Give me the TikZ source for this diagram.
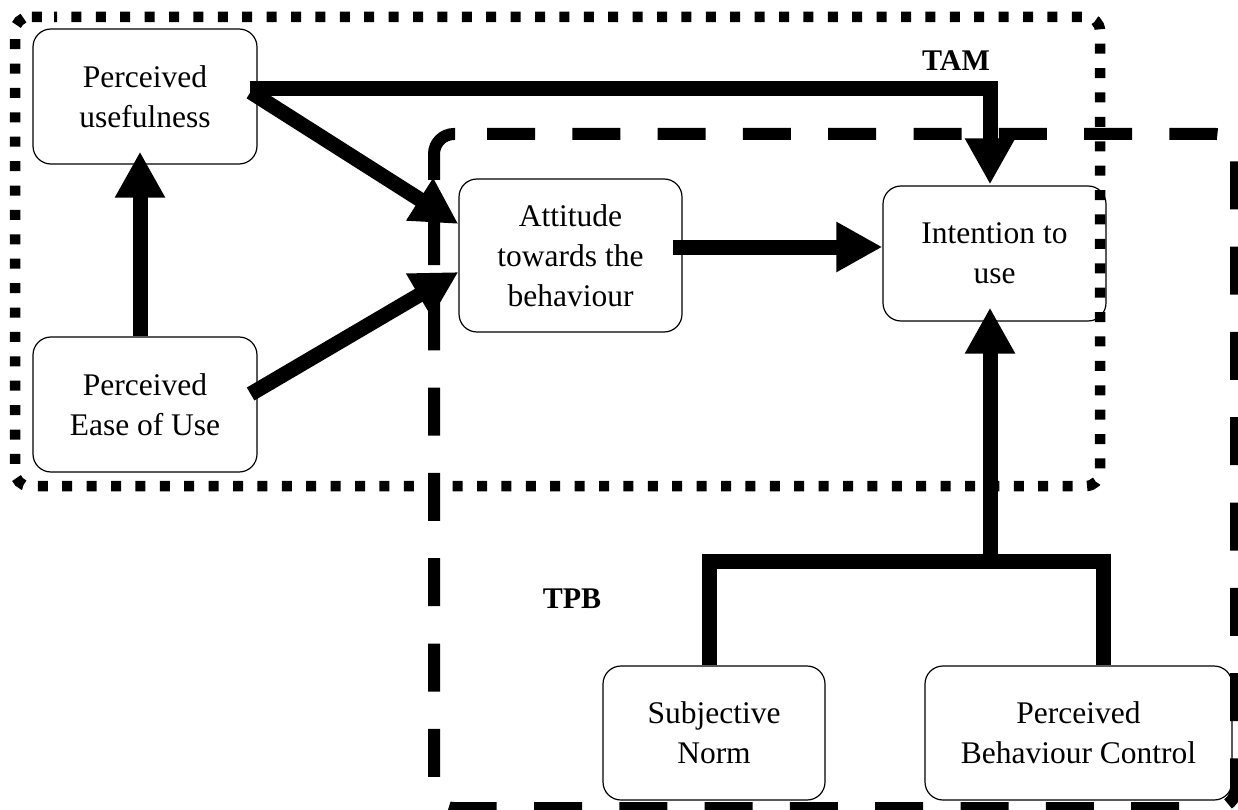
\documentclass[tikz,border=0pt]{standalone}
\usepackage{fontspec}
\setmainfont{Liberation Serif}
\usetikzlibrary{arrows.meta,calc}
\begin{document}
\begin{tikzpicture}[x=1pt,y=-1pt,
  box/.style={draw, line width=1.2pt, rounded corners=18pt, fill=white, align=center,
    font=\fontsize{31.5}{40}\selectfont, inner sep=0pt},
  arr/.style={line width=15pt, line join=miter, -{Triangle[length=46pt,width=47pt]}},
  conn/.style={line width=15pt, line join=miter},
  tamline/.style={line width=10.5pt, rounded corners=14pt, dash pattern=on 10pt off 14.4pt, dash phase=7pt},
  tpbline/.style={line width=12pt, rounded corners=20pt, dash pattern=on 48pt off 37.3pt},
  tpbsolid/.style={line width=12pt, rounded corners=20pt},
  lbl/.style={font=\fontsize{30}{36}\selectfont\bfseries, anchor=base, inner sep=0pt}]
\useasboundingbox (0,0) rectangle (1238,810);
% nodes
\node[box, minimum width=224pt, minimum height=135pt] (PU) at (145,96.5) {Perceived\\usefulness};
\node[box, minimum width=224pt, minimum height=135pt] (PEOU) at (145,404.5) {Perceived\\Ease of Use};
\node[box, minimum width=223pt, minimum height=153pt] (Att) at (570.5,255.5) {Attitude\\towards the\\behaviour};
\node[box, minimum width=223pt, minimum height=135pt] (Int) at (994.5,253.5) {Intention to\\use};
\node[box, minimum width=222pt, minimum height=134pt] (SN) at (714,733) {Subjective\\Norm};
\node[box, minimum width=307pt, minimum height=134pt] (PBC) at (1078.5,733) {Perceived\\Behaviour Control};
% frames
\draw[tamline] (40,17) -- (1100,17) -- (1100,486) -- (15,486) -- (15,17) -- cycle;
\draw[tpbsolid] (434,180) -- (434,134) -- (455,134);
\draw[tpbline] (487,134) -- (1236,134) -- (1236,808) -- (1216,808);
\draw[tpbline] (434,217) -- (434,808) -- (1216,808);
\node[lbl] (tam) at (956,71) {TAM};
\node[lbl] (tpb) at (572,608) {TPB};
% connectors
\draw[arr] ([xshift=-5pt]PEOU.north) -- ([xshift=-5pt,yshift=13pt]PU.south);
\draw[arr] ([xshift=-7pt,yshift=4.5pt]PU.east) -- ([yshift=31.5pt]Att.west);
\draw[arr] ([xshift=-7pt,yshift=10.5pt]PEOU.east) -- ([yshift=-16.5pt]Att.west);
\draw[arr] ([xshift=-8pt,yshift=7.5pt]PU.east) -| ([xshift=-4.5pt,yshift=1pt]Int.north);
\draw[arr] ([xshift=-10pt,yshift=8.5pt]Att.east) -- ([yshift=6.5pt]Int.west);
\coordinate (jn) at (990,561);
\draw[conn] ([xshift=-5pt]SN.north) |- (jn) -| ([xshift=24.5pt]PBC.north);
\draw[arr] (jn) -- ([xshift=-4.5pt,yshift=14pt]Int.south);
\end{tikzpicture}
\end{document}
